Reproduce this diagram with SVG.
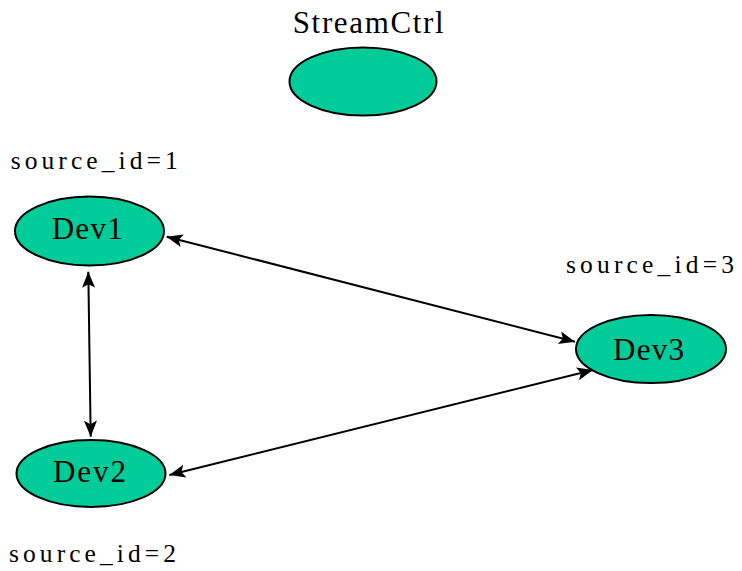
<svg xmlns="http://www.w3.org/2000/svg" width="742" height="571" viewBox="0 0 742 571">
  <style>
    .node { fill: #00cc99; stroke: #000; stroke-width: 2; }
    .lbl { font-family: "Liberation Serif", "Times New Roman", serif; fill: #000; }
    .name { font-size: 31px; }
    .src { font-size: 25.5px; }
    .link { fill: none; stroke: #000; stroke-width: 2; }
  </style>
  <defs>
    <!-- filled, slightly notched arrowhead; tip sits on the path end -->
    <marker id="head" markerUnits="userSpaceOnUse" markerWidth="20" markerHeight="18" viewBox="-18 -9 20 18" refX="0" refY="0" orient="auto-start-reverse">
      <path d="M0,0 L-16,-6.5 L-12.5,0 L-16,6.5 Z" fill="#000"/>
    </marker>
  </defs>

  <g id="streamctrl">
    <ellipse class="node" cx="363" cy="81.5" rx="73.5" ry="34"/>
    <text class="lbl name" x="292.7" y="33" textLength="151" lengthAdjust="spacing">StreamCtrl</text>
  </g>

  <g id="dev1">
    <ellipse class="node" cx="89.5" cy="231" rx="74.5" ry="34.5"/>
    <text class="lbl name" x="51.7" y="238.5" textLength="71" lengthAdjust="spacing">Dev1</text>
    <text class="lbl src" x="10.7" y="169.3" textLength="167" lengthAdjust="spacing">source_id=1</text>
  </g>

  <g id="dev2">
    <ellipse class="node" cx="91" cy="473.5" rx="74.5" ry="33.5"/>
    <text class="lbl name" x="53" y="482" textLength="73" lengthAdjust="spacing">Dev2</text>
    <text class="lbl src" x="9" y="561.7" textLength="167" lengthAdjust="spacing">source_id=2</text>
  </g>

  <g id="dev3">
    <ellipse class="node" cx="651" cy="349" rx="75" ry="34"/>
    <text class="lbl name" x="613" y="360" textLength="71" lengthAdjust="spacing">Dev3</text>
    <text class="lbl src" x="566" y="273.3" textLength="168" lengthAdjust="spacing">source_id=3</text>
  </g>

  <g id="connectors">
    <path class="link" d="M166.7,236.7 L575,341.7" marker-start="url(#head)" marker-end="url(#head)"/>
    <path class="link" d="M169.3,475 L593,370" marker-start="url(#head)" marker-end="url(#head)"/>
    <path class="link" d="M88.3,271.7 L90.7,436.7" marker-start="url(#head)" marker-end="url(#head)"/>
  </g>
</svg>
